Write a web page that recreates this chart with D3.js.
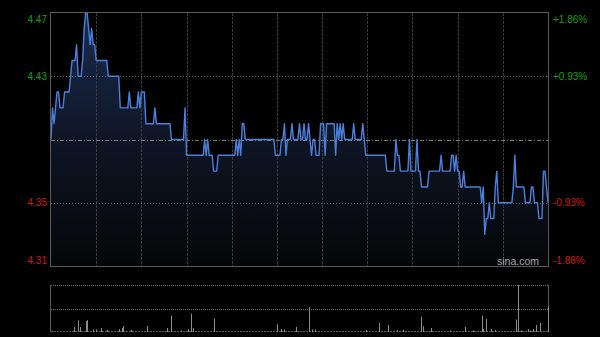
<!DOCTYPE html>
<html><head><meta charset="utf-8">
<script src="https://cdn.jsdelivr.net/npm/d3@7"></script>
<style>html,body{margin:0;padding:0;background:#000;}svg{display:block;}</style>
</head><body>
<svg id="c" width="600" height="337"></svg>
<script>
// ---- data ----
const prevClose = 4.39;
const priceTicks = [4.47, 4.43, 4.35, 4.31];
const pctTicks = ["+1.86%", "+0.93%", "-0.93%", "-1.86%"];
// one price per minute (0..330)
const prices = [
4.39,4.41,4.40,4.41,4.42,4.42,4.41,4.41,4.41,4.42,
4.42,4.42,4.42,4.43,4.44,4.44,4.44,4.45,4.43,4.43,
4.43,4.44,4.46,4.47,4.47,4.46,4.45,4.46,4.45,4.45,
4.44,4.44,4.44,4.44,4.44,4.44,4.44,4.44,4.43,4.43,
4.43,4.43,4.43,4.43,4.43,4.43,4.41,4.41,4.41,4.41,
4.41,4.41,4.42,4.41,4.41,4.41,4.41,4.41,4.42,4.41,
4.42,4.42,4.42,4.40,4.40,4.40,4.40,4.40,4.40,4.41,
4.40,4.40,4.40,4.40,4.40,4.40,4.40,4.40,4.40,4.40,
4.39,4.39,4.39,4.39,4.39,4.39,4.39,4.39,4.39,4.41,
4.38,4.38,4.38,4.38,4.38,4.38,4.38,4.38,4.38,4.38,
4.38,4.38,4.39,4.38,4.39,4.38,4.38,4.38,4.37,4.37,
4.37,4.38,4.38,4.38,4.38,4.38,4.38,4.38,4.38,4.38,
4.38,4.38,4.38,4.39,4.38,4.39,4.38,4.40,4.40,4.39,
4.39,4.39,4.39,4.39,4.39,4.39,4.39,4.39,4.39,4.39,
4.39,4.39,4.39,4.39,4.39,4.39,4.39,4.39,4.39,4.38,
4.38,4.38,4.38,4.39,4.39,4.40,4.38,4.39,4.39,4.39,
4.40,4.39,4.39,4.39,4.39,4.40,4.39,4.39,4.40,4.39,
4.39,4.40,4.39,4.38,4.39,4.39,4.38,4.38,4.38,4.40,
4.40,4.40,4.38,4.40,4.40,4.40,4.40,4.40,4.40,4.38,
4.40,4.39,4.40,4.39,4.40,4.39,4.39,4.39,4.39,4.39,
4.39,4.40,4.39,4.39,4.39,4.39,4.39,4.40,4.39,4.38,
4.38,4.38,4.38,4.38,4.38,4.38,4.38,4.38,4.38,4.38,
4.38,4.38,4.38,4.37,4.37,4.37,4.37,4.37,4.37,4.39,
4.38,4.38,4.37,4.37,4.37,4.37,4.37,4.37,4.39,4.37,
4.37,4.37,4.37,4.39,4.37,4.37,4.36,4.36,4.36,4.36,
4.36,4.37,4.37,4.37,4.37,4.37,4.37,4.37,4.37,4.38,
4.37,4.37,4.37,4.37,4.37,4.37,4.38,4.38,4.37,4.38,
4.37,4.37,4.36,4.36,4.37,4.36,4.36,4.36,4.36,4.36,
4.36,4.36,4.36,4.36,4.36,4.36,4.35,4.36,4.33,4.34,
4.34,4.35,4.34,4.34,4.34,4.36,4.37,4.35,4.35,4.35,
4.35,4.35,4.35,4.35,4.35,4.35,4.35,4.36,4.38,4.36,
4.36,4.36,4.36,4.36,4.36,4.35,4.35,4.35,4.35,4.36,
4.36,4.35,4.35,4.35,4.34,4.34,4.34,4.37,4.37,4.36,
4.35
];
// volume (relative units), minute index and value of visible bars
const volMinutes = [15,18,19,23,24,28,30,33,37,45,47,48,53,64,77,80,86,91,93,94,108,150,153,155,163,
  171,173,175,209,218,224,230,234,246,247,252,265,275,280,286,287,289,292,295,309,310,312,317,318,320,322,325,330];
const volValues  = [50,117,50,110,117,25,25,40,20,30,40,60,20,60,40,163,15,30,183,40,133,77,30,25,50,
  247,25,25,20,90,70,20,20,150,55,40,15,50,15,163,30,133,30,20,123,467,15,30,15,30,70,90,260];

// ---- layout ----
const svg = d3.select("#c");
const L = 51, R = 548, T = 13, B = 266;
const VT = 285, VB = 332;
const x = d3.scaleLinear().domain([0, 330]).range([L, R]);
const y = d3.scaleLinear().domain([4.31, 4.47]).range([B, T]);
const yv = d3.scaleLinear().domain([0, d3.max(volValues)]).range([VB, VT]);

svg.append("rect").attr("width", 600).attr("height", 337).attr("fill", "#000");

const defs = svg.append("defs");
const grad = defs.append("linearGradient").attr("id", "ga")
  .attr("gradientUnits", "userSpaceOnUse").attr("x1", 0).attr("y1", T).attr("x2", 0).attr("y2", B);
grad.append("stop").attr("offset", 0).attr("stop-color", "#1a2c50");
grad.append("stop").attr("offset", 0.5).attr("stop-color", "#0e1525");
grad.append("stop").attr("offset", 1).attr("stop-color", "#050608");

const pts = prices.map((p, i) => [i, p]);
// area
svg.append("path").datum(pts)
  .attr("d", d3.area().x(d => x(d[0])).y0(B).y1(d => y(d[1])))
  .attr("fill", "url(#ga)");

// vertical grid
const vticks = d3.range(30, 330, 30);
svg.append("g").selectAll("line").data(vticks).join("line")
  .attr("x1", d => Math.round(x(d)) + 0.5).attr("x2", d => Math.round(x(d)) + 0.5)
  .attr("y1", T).attr("y2", B)
  .attr("stroke", "#3a3a3a").attr("stroke-dasharray", "3,1");
// horizontal grid
svg.append("g").selectAll("line").data([4.43, 4.35]).join("line")
  .attr("x1", L).attr("x2", R)
  .attr("y1", d => Math.round(y(d)) + 0.5).attr("y2", d => Math.round(y(d)) + 0.5)
  .attr("stroke", "#6a6a6a").attr("stroke-dasharray", "1,2");
svg.append("line").attr("x1", L).attr("x2", R)
  .attr("y1", Math.round(y(prevClose)) + 0.5).attr("y2", Math.round(y(prevClose)) + 0.5)
  .attr("stroke", "#7a7a7a").attr("stroke-dasharray", "4,2,1,2");

// price line
svg.append("path").datum(pts)
  .attr("d", d3.line().x(d => x(d[0])).y(d => y(d[1])))
  .attr("fill", "none").attr("stroke", "#4a80dc").attr("stroke-width", 1.4)
  .attr("stroke-linejoin", "round");

// border
svg.append("rect").attr("x", L - 0.5).attr("y", T - 0.5).attr("width", R - L + 1).attr("height", B - T + 1)
  .attr("fill", "none").attr("stroke", "#5a5a5a");

// axis labels
const fontF = "Arial, 'Liberation Sans', sans-serif";
const labelY = [T + 6, y(4.43), y(4.35), B - 6];
svg.append("g").selectAll("text").data(priceTicks).join("text")
  .attr("x", 47).attr("y", (d, i) => labelY[i]).attr("dy", "0.35em")
  .attr("text-anchor", "end").attr("font-family", fontF).attr("font-size", 10)
  .attr("fill", d => d > prevClose ? "#14a014" : "#d01818")
  .text(d => d.toFixed(2));
svg.append("g").selectAll("text").data(pctTicks).join("text")
  .attr("x", 553).attr("y", (d, i) => labelY[i]).attr("dy", "0.35em")
  .attr("text-anchor", "start").attr("font-family", fontF).attr("font-size", 10)
  .attr("fill", d => d[0] === "+" ? "#14a014" : "#d01818")
  .text(d => d);

svg.append("text").attr("x", 518).attr("y", 265).attr("text-anchor", "middle")
  .attr("font-family", fontF).attr("font-size", 10.5).attr("fill", "#a8a8a8").text("sina.com");

// volume panel
svg.append("line").attr("x1", L).attr("x2", R).attr("y1", VT + 0.5).attr("y2", VT + 0.5)
  .attr("stroke", "#6a6a6a").attr("stroke-dasharray", "1,1");
svg.append("line").attr("x1", L).attr("x2", R).attr("y1", 309.5).attr("y2", 309.5)
  .attr("stroke", "#6a6a6a").attr("stroke-dasharray", "1,1");
svg.append("line").attr("x1", L).attr("x2", R).attr("y1", VB - 0.5).attr("y2", VB - 0.5)
  .attr("stroke", "#5a5a5a").attr("stroke-dasharray", "2,1");
svg.append("line").attr("x1", L - 0.5).attr("x2", L - 0.5).attr("y1", VT).attr("y2", VB)
  .attr("stroke", "#5a5a5a");
svg.append("line").attr("x1", R + 0.5).attr("x2", R + 0.5).attr("y1", VT).attr("y2", VB)
  .attr("stroke", "#5a5a5a");
svg.append("g").selectAll("line").data(volMinutes.map((m, i) => [m, volValues[i]])).join("line")
  .attr("x1", d => Math.round(x(d[0])) + 0.5).attr("x2", d => Math.round(x(d[0])) + 0.5)
  .attr("y1", VB).attr("y2", d => yv(d[1]))
  .attr("stroke", "#8c8c8c").attr("stroke-width", 1);
</script>
</body></html>
